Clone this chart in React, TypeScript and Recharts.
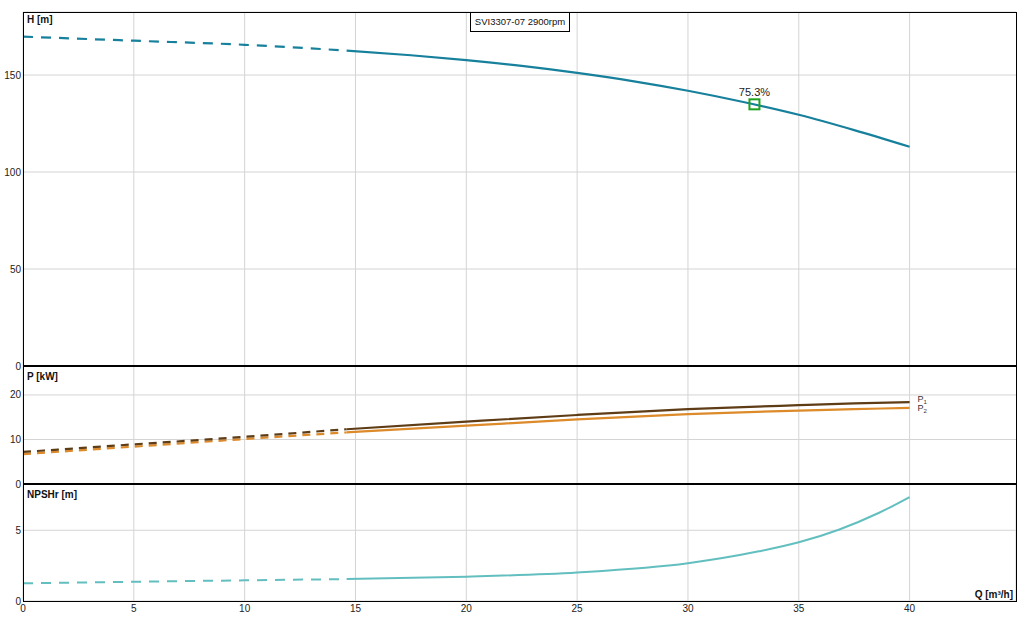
import React from 'react';
import {
  LineChart, Line, XAxis, YAxis, CartesianGrid, ReferenceDot, ReferenceLine,
} from 'recharts';

// flow Q [m³/h]
const qDashed = [0, 5, 10, 14.6];
const qHead = [14.6, 17.5, 20, 22.5, 25, 27.5, 30, 32.5, 35, 37.5, 40];
const qPower = [14.6, 20, 25, 30, 35, 37.5, 40];
const qNpsh = [14.6, 20, 25, 30, 33.2, 35, 36.8, 38.6, 40];

// head H [m]
const headDashed = [169.8, 167.7, 165.6, 162.6];
const headSolid = [162.6, 160.2, 157.7, 154.7, 151.1, 146.9, 141.9, 136.1, 129.5, 121.6, 113.0];

// power P1 / P2 [kW]
const p1Dashed = [7.2, 8.9, 10.6, 12.3];
const p2Dashed = [6.7, 8.4, 10.1, 11.6];
const p1Solid = [12.3, 14.0, 15.5, 16.8, 17.7, 18.1, 18.4];
const p2Solid = [11.6, 13.1, 14.5, 15.7, 16.5, 16.8, 17.1];

// NPSHr [m]
const npshDashed = [1.25, 1.36, 1.46, 1.55];
const npshSolid = [1.55, 1.72, 2.02, 2.67, 3.51, 4.15, 5.04, 6.22, 7.35];

// duty point
const dutyQ = 33;
const dutyH = 134.9;
const dutyEff = '75.3%';

const xTicks = [0, 5, 10, 15, 20, 25, 30, 35, 40];
const hTicks = [0, 50, 100, 150];
const pTicks = [0, 10, 20];
const nTicks = [0, 5];

const title = 'SVI3307-07 2900rpm';

const zip = (qs: number[], vs: number[]) => qs.map((q, i) => ({ q, v: vs[i] }));

const FONT = '"Liberation Sans", Arial, sans-serif';
const W = 1031;
const tickStyle = { fontSize: 10, fill: '#222', fontFamily: FONT };
const gridColor = '#d4d4d4';

const HEAD = '#17809c';
const P1C = '#5e3c16';
const P2C = '#dc8a2a';
const NPSHC = '#63bfbf';

function endLabel(n: number, sub: string, dy: number) {
  return (props: any) => {
    if (props.index !== n - 1) return <g />;
    return (
      <text x={props.x + 8} y={props.y + dy} fontSize={9} fill="#333" fontFamily={FONT}>
        P<tspan fontSize={6} dy={2}>{sub}</tspan>
      </text>
    );
  };
}

function Xhidden() {
  return (
    <XAxis
      type="number" dataKey="q" domain={[0, 44.8]} ticks={xTicks}
      height={0} tick={false} axisLine={false} tickLine={false} allowDataOverflow
    />
  );
}

function vGrid() {
  return xTicks.map((t) => (
    <ReferenceLine key={t} x={t} stroke={gridColor} />
  ));
}

export default function App() {
  const label = (text: string, left: number, top: number) => (
    <div style={{
      position: 'absolute', left, top, fontSize: 10, fontWeight: 'bold',
      fontFamily: FONT, lineHeight: '12px', color: '#111', whiteSpace: 'nowrap',
    }}>{text}</div>
  );

  return (
    <div style={{
      position: 'absolute', left: 0, top: 0, width: W, height: 625,
      background: '#fff', fontFamily: FONT, overflow: 'hidden',
    }}>
      {/* H panel */}
      <div style={{ position: 'absolute', left: 0, top: 0 }}>
        <LineChart width={W} height={376} margin={{ top: 12, right: 15, bottom: 10, left: 0 }}>
          <CartesianGrid stroke={gridColor} vertical={false} />
          {Xhidden()}
          <YAxis
            type="number" domain={[0, 182.5]} ticks={hTicks} width={23}
            tick={tickStyle} tickSize={0} tickMargin={2} axisLine={false} tickLine={false}
          />
          {vGrid()}
          <Line data={zip(qDashed, headDashed)} dataKey="v" type="monotone" stroke={HEAD}
            strokeWidth={2.2} strokeDasharray="10 8" dot={false} isAnimationActive={false} />
          <Line data={zip(qHead, headSolid)} dataKey="v" type="monotone" stroke={HEAD}
            strokeWidth={2.2} dot={false} isAnimationActive={false} />
          <ReferenceDot
            x={dutyQ} y={dutyH} r={5}
            shape={(p: any) => (
              <rect x={p.cx - 5} y={p.cy - 5} width={10} height={10}
                fill="none" stroke="#1fa01f" strokeWidth={2} />
            )}
            label={{ value: dutyEff, position: 'top', offset: 3, fill: '#222', fontSize: 11, fontFamily: FONT }}
          />
        </LineChart>
      </div>

      {/* P panel */}
      <div style={{ position: 'absolute', left: 0, top: 356 }}>
        <LineChart width={W} height={138} margin={{ top: 10, right: 15, bottom: 10, left: 0 }}>
          <CartesianGrid stroke={gridColor} vertical={false} />
          {Xhidden()}
          <YAxis
            type="number" domain={[0, 26.5]} ticks={pTicks} width={23}
            tick={tickStyle} tickSize={0} tickMargin={2} axisLine={false} tickLine={false}
          />
          {vGrid()}
          <Line data={zip(qDashed, p2Dashed)} dataKey="v" type="monotone" stroke={P2C}
            strokeWidth={2.2} strokeDasharray="8 6" dot={false} isAnimationActive={false} />
          <Line data={zip(qDashed, p1Dashed)} dataKey="v" type="monotone" stroke={P1C}
            strokeWidth={2.2} strokeDasharray="8 6" dot={false} isAnimationActive={false} />
          <Line data={zip(qPower, p2Solid)} dataKey="v" type="monotone" stroke={P2C}
            strokeWidth={2.2} dot={false} isAnimationActive={false}
            label={endLabel(qPower.length, '2', 3)} />
          <Line data={zip(qPower, p1Solid)} dataKey="v" type="monotone" stroke={P1C}
            strokeWidth={2.2} dot={false} isAnimationActive={false}
            label={endLabel(qPower.length, '1', 0)} />
        </LineChart>
      </div>

      {/* NPSH panel */}
      <div style={{ position: 'absolute', left: 0, top: 474 }}>
        <LineChart width={W} height={151} margin={{ top: 10, right: 15, bottom: 0, left: 0 }}>
          <CartesianGrid stroke={gridColor} />
          <XAxis
            type="number" dataKey="q" domain={[0, 44.8]} ticks={xTicks} height={24}
            tick={tickStyle} tickSize={0} tickMargin={4} axisLine={false} tickLine={false}
            allowDataOverflow
          />
          <YAxis
            type="number" domain={[0, 8.27]} ticks={nTicks} width={23}
            tick={tickStyle} tickSize={0} tickMargin={2} axisLine={false} tickLine={false}
          />
          <Line data={zip(qDashed, npshDashed)} dataKey="v" type="monotone" stroke={NPSHC}
            strokeWidth={2} strokeDasharray="10 8" dot={false} isAnimationActive={false} />
          <Line data={zip(qNpsh, npshSolid)} dataKey="v" type="monotone" stroke={NPSHC}
            strokeWidth={2} dot={false} isAnimationActive={false} />
        </LineChart>
      </div>

      {/* frame and panel separators */}
      <div style={{
        position: 'absolute', left: 23, top: 12, width: 994, height: 590,
        border: '1px solid #000', boxSizing: 'border-box', pointerEvents: 'none',
      }} />
      <div style={{ position: 'absolute', left: 23, top: 365, width: 994, height: 2, background: '#000' }} />
      <div style={{ position: 'absolute', left: 23, top: 483, width: 994, height: 2, background: '#000' }} />

      {label('H [m]', 27, 14)}
      {label('P [kW]', 27, 371)}
      {label('NPSHr [m]', 27, 489)}
      <div style={{
        position: 'absolute', right: 1031 - 1013, top: 589, fontSize: 10, fontWeight: 'bold',
        fontFamily: FONT, lineHeight: '12px', color: '#111', whiteSpace: 'nowrap',
      }}>Q [m³/h]</div>

      <div style={{
        position: 'absolute', left: 470, top: 12, width: 100, height: 20,
        border: '1px solid #000', boxSizing: 'border-box', background: '#fff',
        fontSize: 9.5, fontFamily: FONT, lineHeight: '18px', textAlign: 'center', color: '#111',
        whiteSpace: 'nowrap', overflow: 'hidden',
      }}>{title}</div>
    </div>
  );
}
